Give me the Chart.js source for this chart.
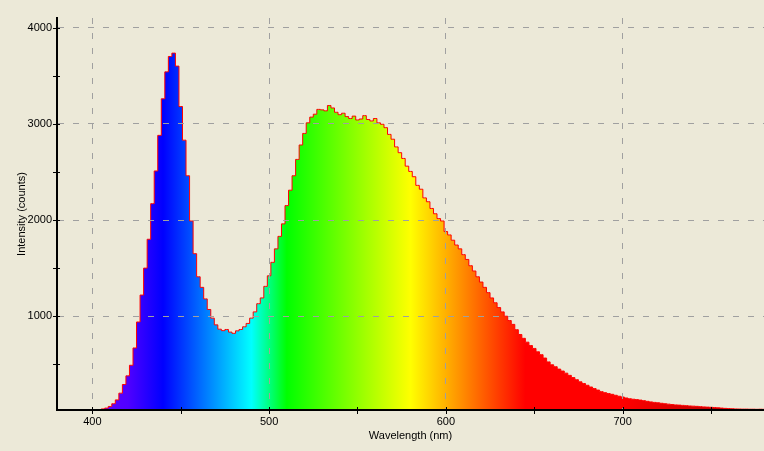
<!DOCTYPE html>
<html>
<head>
<meta charset="utf-8">
<title>LED spectrum</title>
<script src="https://cdn.jsdelivr.net/npm/chart.js@4.4.1/dist/chart.umd.min.js"></script>
<style>
  html, body { margin: 0; padding: 0; background: #ece9d8; }
  canvas { display: block; }
</style>
</head>
<body>
<canvas id="spectrum" width="764" height="451"></canvas>
<script>
// ── Data (2 nm steps) ─────────────────────────────────────
const wavelengths = [
  400, 402, 404, 406, 408, 410, 412, 414, 416, 418,
  420, 422, 424, 426, 428, 430, 432, 434, 436, 438,
  440, 442, 444, 446, 448, 450, 452, 454, 456, 458,
  460, 462, 464, 466, 468, 470, 472, 474, 476, 478,
  480, 482, 484, 486, 488, 490, 492, 494, 496, 498,
  500, 502, 504, 506, 508, 510, 512, 514, 516, 518,
  520, 522, 524, 526, 528, 530, 532, 534, 536, 538,
  540, 542, 544, 546, 548, 550, 552, 554, 556, 558,
  560, 562, 564, 566, 568, 570, 572, 574, 576, 578,
  580, 582, 584, 586, 588, 590, 592, 594, 596, 598,
  600, 602, 604, 606, 608, 610, 612, 614, 616, 618,
  620, 622, 624, 626, 628, 630, 632, 634, 636, 638,
  640, 642, 644, 646, 648, 650, 652, 654, 656, 658,
  660, 662, 664, 666, 668, 670, 672, 674, 676, 678,
  680, 682, 684, 686, 688, 690, 692, 694, 696, 698,
  700, 702, 704, 706, 708, 710, 712, 714, 716, 718,
  720, 722, 724, 726, 728, 730, 732, 734, 736, 738,
  740, 742, 744, 746, 748, 750, 752, 754, 756, 758,
  760, 762, 764, 766, 768, 770, 772, 774, 776, 778,
  780,
];

const counts = [
  10, 18, 28, 36, 45, 62, 90, 130, 200, 290,
  380, 490, 670, 940, 1220, 1500, 1800, 2170, 2510, 2880,
  3260, 3540, 3700, 3735, 3600, 3180, 2830, 2460, 1990, 1650,
  1410, 1300, 1180, 1070, 980, 910, 865, 850, 862, 835,
  822, 848, 862, 890, 925, 980, 1045, 1130, 1190, 1310,
  1420, 1560, 1700, 1830, 1960, 2150, 2310, 2460, 2630, 2780,
  2900, 3010, 3070, 3100, 3150, 3145, 3135, 3190, 3165, 3120,
  3095, 3110, 3075, 3055, 3080, 3040, 3050, 3085, 3045, 3030,
  3055, 3010, 2995, 2960, 2890, 2840, 2760, 2700, 2640, 2560,
  2505, 2450, 2360, 2320, 2230, 2190, 2120, 2065, 2015, 1990,
  1880, 1845, 1790, 1740, 1700, 1640, 1590, 1525, 1470, 1410,
  1355, 1300, 1245, 1190, 1140, 1090, 1045, 1000, 955, 915,
  860, 810, 770, 730, 695, 665, 630, 600, 565, 525,
  495, 475, 450, 430, 408, 385, 362, 340, 318, 300,
  282, 264, 248, 232, 216, 205, 196, 188, 178, 168,
  160, 150, 142, 137, 133, 128, 122, 115, 109, 104,
  100, 95, 90, 86, 82, 78, 76, 73, 70, 67,
  65, 63, 60, 57, 55, 53, 51, 48, 45, 42,
  40, 38, 36, 35, 34, 34, 33, 33, 32, 33,
  32,
];

// tick positions (major ones get a label and a dashed grid line)
const xTicks = [400, 450, 500, 550, 600, 650, 700, 750];
const yTicks = [500, 1000, 1500, 2000, 2500, 3000, 3500, 4000];
const xTickLabels = [400, 500, 600, 700];
const yTickLabels = [1000, 2000, 3000, 4000];

// ── Style ─────────────────────────────────────────────────
const FONT = { family: '"Liberation Sans", Arial, sans-serif', size: 11 };
const GRID_COLOR = '#a0a0a0';
const NONE = 'rgba(0,0,0,0)';

// wavelength -> colour stops for the fill under the curve
const SPECTRUM_STOPS = [
  [380, '#7800ff'], [420, '#5000ff'], [440, '#0000ff'], [490, '#00ffff'],
  [510, '#00ff00'], [580, '#ffff00'], [645, '#ff0000'], [700, '#ff0000'],
  [780, '#a00000'],
];

function spectrumFill(context) {
  const { chart } = context;
  const { chartArea, scales } = chart;
  if (!chartArea) return NONE;
  const g = chart.ctx.createLinearGradient(chartArea.left, 0, chartArea.right, 0);
  const w = chartArea.right - chartArea.left;
  SPECTRUM_STOPS.forEach(([nm, col]) => {
    const p = (scales.x.getPixelForValue(nm) - chartArea.left) / w;
    g.addColorStop(Math.min(1, Math.max(0, p)), col);
  });
  return g;
}

// ticks that cross the axis line (both sides)
const crossTicks = {
  id: 'crossTicks',
  afterDraw(chart) {
    const { ctx, chartArea, scales: { x, y } } = chart;
    ctx.save();
    ctx.strokeStyle = '#000';
    ctx.lineWidth = 1;
    ctx.beginPath();
    xTicks.forEach(v => {
      const px = Math.round(x.getPixelForValue(v)) + 0.5;
      ctx.moveTo(px, chartArea.bottom - 3);
      ctx.lineTo(px, chartArea.bottom + 4);
    });
    yTicks.forEach(v => {
      const py = Math.round(y.getPixelForValue(v)) + 0.5;
      ctx.moveTo(chartArea.left - 4, py);
      ctx.lineTo(chartArea.left + 3, py);
    });
    ctx.stroke();
    ctx.restore();
  },
};

const useTicks = list => scale => {
  scale.ticks = list.map(v => ({ value: v }));
};

// ── Chart ─────────────────────────────────────────────────
new Chart(document.getElementById('spectrum'), {
  type: 'line',
  data: {
    datasets: [{
      data: wavelengths.map((w, i) => ({ x: w, y: counts[i] })),
      borderColor: '#ff0000',
      borderWidth: 1,
      backgroundColor: spectrumFill,
      fill: 'start',
      stepped: 'middle',
      pointRadius: 0,
    }],
  },
  options: {
    responsive: false,
    devicePixelRatio: 1,
    animation: false,
    layout: { padding: { top: 18, right: 0, left: 0, bottom: 0 } },
    plugins: { legend: { display: false }, tooltip: { enabled: false } },
    scales: {
      x: {
        type: 'linear',
        min: 380,
        max: 780,
        afterBuildTicks: useTicks(xTicks),
        afterFit: s => { s.height = 41; },
        grid: {
          z: 1,
          drawTicks: false,
          color: ctx => (ctx.tick && xTickLabels.includes(ctx.tick.value)) ? GRID_COLOR : NONE,
        },
        border: { z: 1, color: '#000', width: 2, dash: [6, 9] },
        ticks: {
          z: 1,
          autoSkip: false,
          maxRotation: 0,
          padding: 5,
          color: '#000',
          font: FONT,
          callback: v => xTickLabels.includes(v) ? String(v) : '',
        },
        title: {
          display: true,
          text: 'Wavelength (nm)',
          color: '#000',
          font: FONT,
          padding: { top: 0, bottom: 8 },
        },
      },
      y: {
        type: 'linear',
        min: 25,
        max: 4100,
        afterBuildTicks: useTicks(yTicks),
        afterFit: s => { s.width = 57; },
        grid: {
          z: 1,
          drawTicks: false,
          color: ctx => (ctx.tick && yTickLabels.includes(ctx.tick.value)) ? GRID_COLOR : NONE,
        },
        border: { z: 1, color: '#000', width: 2, dash: [6, 9] },
        ticks: {
          z: 1,
          autoSkip: false,
          padding: 5,
          color: '#000',
          font: FONT,
          callback: v => yTickLabels.includes(v) ? String(v) : '',
        },
        title: {
          display: true,
          text: 'Intensity (counts)',
          color: '#000',
          font: FONT,
          padding: { top: 15, bottom: 0 },
        },
      },
    },
  },
  plugins: [crossTicks],
});
</script>
</body>
</html>
